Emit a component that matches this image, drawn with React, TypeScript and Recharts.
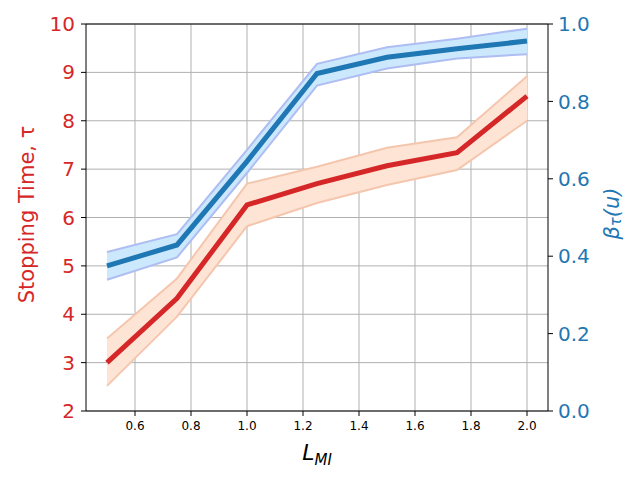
import {
  ComposedChart,
  CartesianGrid,
  XAxis,
  YAxis,
  Area,
  Line,
  ReferenceLine,
} from 'recharts'

const lmi = [0.5, 0.75, 1.0, 1.25, 1.5, 1.75, 2.0]

// stopping time (left axis)
const tauMean = [3.0, 4.33, 6.26, 6.7, 7.07, 7.34, 8.51]
const tauLow = [2.52, 3.95, 5.82, 6.3, 6.67, 6.98, 8.0]
const tauHigh = [3.5, 4.74, 6.7, 7.05, 7.44, 7.66, 8.92]

// beta_tau(u) (right axis)
const betaMean = [0.375, 0.429, 0.645, 0.872, 0.914, 0.936, 0.956]
const betaLow = [0.339, 0.397, 0.615, 0.841, 0.885, 0.911, 0.922]
const betaHigh = [0.411, 0.457, 0.675, 0.897, 0.94, 0.962, 0.988]

const xTicks = [0.6, 0.8, 1.0, 1.2, 1.4, 1.6, 1.8, 2.0]
const leftTicks = [2, 3, 4, 5, 6, 7, 8, 9, 10]
const rightTicks = [0, 0.2, 0.4, 0.6, 0.8, 1.0]

const data = lmi.map((x, i) => ({
  x,
  tau: tauMean[i],
  tauBand: [tauLow[i], tauHigh[i]],
  beta: betaMean[i],
  betaBand: [betaLow[i], betaHigh[i]],
}))

const RED = '#d62728'
const BLUE = '#1f77b4'
const FONT = 'DejaVu Sans, sans-serif'

function XLabel(props: any) {
  const vb = props.viewBox || { x: 86, y: 411, width: 461, height: 69 }
  return (
    <text
      x={vb.x + vb.width / 2}
      y={vb.y + 49}
      textAnchor="middle"
      fontFamily={FONT}
      fontSize={22}
      fontStyle="italic"
      fill="#000"
    >
      L<tspan fontSize={15} dy={5}>MI</tspan>
    </text>
  )
}

function LeftLabel(props: any) {
  const vb = props.viewBox || { x: 0, y: 24, width: 86, height: 387 }
  const cx = vb.x + 27
  const cy = vb.y + vb.height / 2 - 3
  return (
    <text
      x={cx}
      y={cy}
      transform={`rotate(-90 ${cx} ${cy})`}
      textAnchor="middle"
      dominantBaseline="central"
      fontFamily={FONT}
      fontSize={21}
      fill={RED}
    >
      Stopping Time, τ
    </text>
  )
}

function RightLabel(props: any) {
  const vb = props.viewBox || { x: 548, y: 24, width: 92, height: 387 }
  const cx = vb.x + 64
  const cy = vb.y + vb.height / 2 - 4
  return (
    <text
      x={cx}
      y={cy}
      transform={`rotate(-90 ${cx} ${cy})`}
      textAnchor="middle"
      dominantBaseline="central"
      fontFamily={FONT}
      fontSize={21}
      fontStyle="italic"
      fill={BLUE}
    >
      β<tspan fontSize={15} dy={4}>τ</tspan>
      <tspan dy={-4}>(u)</tspan>
    </text>
  )
}

export default function App() {
  return (
    <div
      style={{
        position: 'absolute',
        left: 0,
        top: 0,
        width: 640,
        height: 480,
        background: '#fff',
      }}
    >
      <ComposedChart
        width={640}
        height={480}
        data={data}
        margin={{ top: 24, right: 0, bottom: 0, left: 0 }}
      >
        <CartesianGrid
          yAxisId="left"
          stroke="#b0b0b0"
          strokeWidth={1}
          verticalValues={xTicks}
        />
        <XAxis
          dataKey="x"
          type="number"
          domain={[0.425, 2.075]}
          allowDataOverflow
          ticks={xTicks}
          tickFormatter={(v: number) => v.toFixed(1)}
          height={69}
          tick={{ fill: '#000', fontSize: 12, fontFamily: FONT }}
          tickLine={{ stroke: '#000' }}
          axisLine={{ stroke: '#000' }}
          tickSize={5}
          tickMargin={5}
          label={<XLabel />}
        />
        <YAxis
          yAxisId="left"
          orientation="left"
          domain={[2, 10]}
          ticks={leftTicks}
          allowDataOverflow
          width={86}
          tick={{ fill: RED, fontSize: 20, fontFamily: FONT }}
          tickLine={{ stroke: '#000' }}
          axisLine={{ stroke: '#000' }}
          tickSize={5}
          tickMargin={6}
          label={<LeftLabel />}
        />
        <YAxis
          yAxisId="right"
          orientation="right"
          domain={[0, 1]}
          ticks={rightTicks}
          allowDataOverflow
          width={92}
          tickFormatter={(v: number) => v.toFixed(1)}
          tick={{ fill: BLUE, fontSize: 20, fontFamily: FONT }}
          tickLine={{ stroke: '#000' }}
          axisLine={{ stroke: '#000' }}
          tickSize={5}
          tickMargin={5}
          label={<RightLabel />}
        />
        <ReferenceLine yAxisId="left" y={10} stroke="#000" strokeWidth={1} />
        <Area
          yAxisId="left"
          type="linear"
          dataKey="tauBand"
          fill="#fde4d4"
          fillOpacity={1}
          stroke="#f5c6ae"
          strokeWidth={2}
          isAnimationActive={false}
        />
        <Area
          yAxisId="right"
          type="linear"
          dataKey="betaBand"
          fill="#cce8fd"
          fillOpacity={1}
          stroke="#aebdf2"
          strokeWidth={2}
          isAnimationActive={false}
        />
        <Line
          yAxisId="left"
          type="linear"
          dataKey="tau"
          stroke={RED}
          strokeWidth={5}
          dot={false}
          isAnimationActive={false}
        />
        <Line
          yAxisId="right"
          type="linear"
          dataKey="beta"
          stroke={BLUE}
          strokeWidth={5}
          dot={false}
          isAnimationActive={false}
        />
      </ComposedChart>
    </div>
  )
}
